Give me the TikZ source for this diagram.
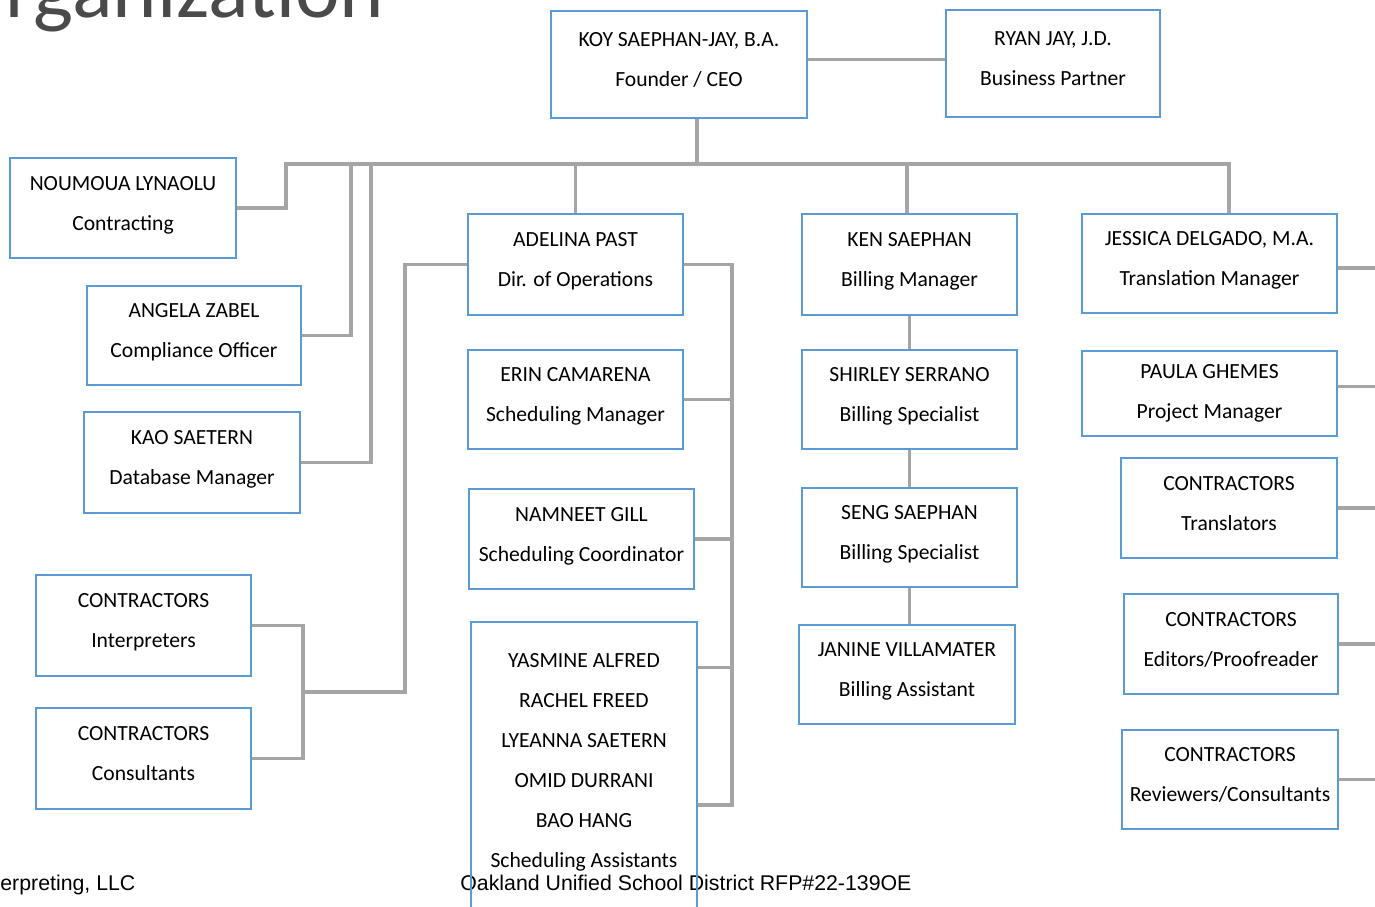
\documentclass[tikz,border=0pt]{standalone}
\usepackage{fontspec}
\setmainfont{Carlito}
\newfontfamily\footfont{Liberation Sans}
\usepackage{xcolor}
\definecolor{boxblue}{HTML}{5B9BD5}
\definecolor{linkgray}{HTML}{A5A5A5}
\definecolor{titlegray}{HTML}{4A4A4A}
\newcommand\tailgap{\\[-15pt]\mbox{}}

\begin{document}
\begin{tikzpicture}[x=0.5pt,y=-0.5pt,
    unit/.style={draw=boxblue, line width=0.7pt, minimum width=107.5pt, minimum height=50pt,
        inner sep=0pt, align=center, font=\fontsize{10.8}{20}\selectfont},
    link/.style={draw=linkgray, line width=1.7pt}]
            \useasboundingbox (0,0) rectangle (1375,906);

            % heading and footer
            \node[anchor=base west, inner sep=0pt, text=titlegray, font=\fontsize{42.3}{42}\selectfont] (title) at (5,17) {rganization};
            \node[anchor=base west, inner sep=0pt, font=\footfont\fontsize{10.65}{12}\selectfont] (firm) at (0,890) {erpreting, LLC};
            \node[anchor=base west, inner sep=0pt, font=\footfont\fontsize{10.65}{12}\selectfont] (rfp) at (460,890) {Oakland Unified School District RFP\#22-139OE};

            % top
            \node[unit, minimum width=128pt, minimum height=53.5pt] (ceo) at (679,64.5) {KOY SAEPHAN-JAY, B.A.\\Founder / CEO\tailgap};
            \node[unit, minimum width=107pt, minimum height=53.5pt] (partner) at (1053,63.5) {RYAN JAY, J.D.\\Business Partner\tailgap};

            % left column
            \node[unit, minimum width=113pt] (contract) at (123,208) {NOUMOUA LYNAOLU\\Contracting\tailgap};
            \node[unit, minimum width=107pt, minimum height=49.5pt] (compliance) at (194,335.5) {ANGELA ZABEL\\Compliance Officer\tailgap};
            \node[unit, minimum width=108pt, minimum height=50.5pt] (database) at (192,462.5) {KAO SAETERN\\Database Manager\tailgap};
            \node[unit, minimum height=50.5pt] (interp) at (143.5,625.5) {CONTRACTORS\\Interpreters\tailgap};
            \node[unit, minimum height=50.5pt] (consult) at (143.5,758.5) {CONTRACTORS\\Consultants\tailgap};

            % operations
            \node[unit, minimum height=50.5pt] (ops) at (575.5,264.5) {ADELINA PAST\\Dir. of Operations\tailgap};
            \node[unit, minimum height=49.5pt] (schedmgr) at (575.5,399.5) {ERIN CAMARENA\\Scheduling Manager\tailgap};
            \node[unit, minimum width=112.5pt] (schedco) at (581.5,539) {NAMNEET GILL\\Scheduling Coordinator\tailgap};
            \node[unit, minimum width=113pt, minimum height=143.5pt] (schedasst) at (584,765.5) {YASMINE ALFRED\\RACHEL FREED\\LYEANNA SAETERN\\OMID DURRANI\\BAO HANG\\Scheduling Assistants\tailgap};

            % billing
            \node[unit, minimum height=50.5pt] (billmgr) at (909.5,264.5) {KEN SAEPHAN\\Billing Manager\tailgap};
            \node[unit, minimum height=49.5pt] (billspec1) at (909.5,399.5) {SHIRLEY SERRANO\\Billing Specialist\tailgap};
            \node[unit, minimum height=49.5pt] (billspec2) at (909.5,537.5) {SENG SAEPHAN\\Billing Specialist\tailgap};
            \node[unit, minimum width=108pt, minimum height=49.5pt] (billasst) at (907,674.5) {JANINE VILLAMATER\\Billing Assistant\tailgap};

            % translation
            \node[unit, minimum width=127.5pt, minimum height=49.5pt] (transmgr) at (1209.5,263.5) {JESSICA DELGADO, M.A.\\Translation Manager\tailgap};
            \node[unit, minimum width=127.5pt, minimum height=42.5pt] (projmgr) at (1209.5,393.5) {PAULA GHEMES\\Project Manager};
            \node[unit, minimum width=108pt] (translators) at (1229,508) {CONTRACTORS\\Translators\tailgap};
            \node[unit, minimum width=107pt] (editors) at (1231,644) {CONTRACTORS\\Editors/Proofreader\tailgap};
            \node[unit, minimum width=108pt, minimum height=49.5pt] (reviewers) at (1230,779.5) {CONTRACTORS\\Reviewers/Consultants\tailgap};

            \coordinate (busL) at (286,164);
            \coordinate (busA) at (351,164);
            \coordinate (busB) at (371,164);
            \coordinate (busC) at (697,164);
            \coordinate (busR) at (1229,164);
            \coordinate (lspine) at (405,692);
            \coordinate (cspine) at (303,692);
            \coordinate (rspine) at (732,805);
            \coordinate (yasjoin) at ([yshift=-23pt]schedasst.north east);
            \coordinate (redge) at (1375,0);

            \draw[link] ([yshift=2.5pt]ceo.east) -- ([yshift=2.5pt]ceo.east -| partner.west);
            \draw[link] (busC |- ceo.south) -- (busC);
            \draw[link] (contract.east) -| (busL) -- (busR) -- (busR |- transmgr.north);
            \draw[link] (compliance.east) -| (busA);
            \draw[link] (database.east) -| (busB);
            \draw[link] (ops.north) -- (ops.north |- busL);
            \draw[link] (billasst.north |- billmgr.north) -- (billasst.north |- busL);

            \draw[link] (billmgr.south) -- (billspec1.north);
            \draw[link] (billspec1.south) -- (billspec2.north);
            \draw[link] (billspec2.south) -- (billspec2.south |- billasst.north);

            \draw[link] (ops.west) -| (lspine) -- (cspine);
            \draw[link] (interp.east) -| (cspine) |- (consult.east);

            \draw[link] (ops.east) -| (rspine) -- (rspine -| schedasst.east);
            \draw[link] (schedmgr.east) -- (schedmgr.east -| rspine);
            \draw[link] (schedco.east) -- (schedco.east -| rspine);
            \draw[link] (yasjoin) -- (yasjoin -| rspine);

            \draw[link] ([yshift=-2.25pt]transmgr.east) -- ([yshift=-2.25pt]transmgr.east -| redge);
            \draw[link] ([yshift=3.5pt]projmgr.east) -- ([yshift=3.5pt]projmgr.east -| redge);
            \draw[link] (translators.east) -- (translators.east -| redge);
            \draw[link] (editors.east) -- (editors.east -| redge);
            \draw[link] (reviewers.east) -- (reviewers.east -| redge);
        \end{tikzpicture}
\end{document}
